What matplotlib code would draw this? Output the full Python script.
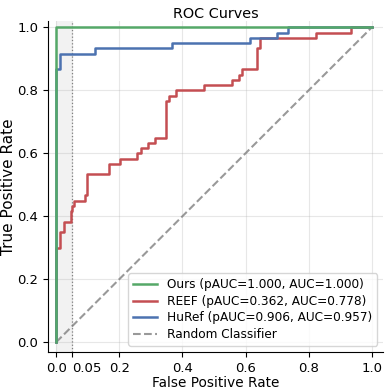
import matplotlib
matplotlib.use('Agg')
import matplotlib.pyplot as plt

# ROC points (steps-post: go right, then up)
ours_fpr = [0.0, 0.0, 1.0]
ours_tpr = [0.0, 1.0, 1.0]

reef_fpr = [0.0, 0.0, 0.012, 0.025, 0.046, 0.051, 0.056, 0.090, 0.099, 0.166, 0.202,
            0.257, 0.268, 0.290, 0.313, 0.347, 0.357, 0.381, 0.467, 0.556, 0.579,
            0.590, 0.636, 0.646, 0.823, 0.934, 1.0]
reef_tpr = [0.0, 0.300, 0.350, 0.383, 0.417, 0.433, 0.450, 0.467, 0.533, 0.567, 0.583,
            0.600, 0.617, 0.633, 0.650, 0.767, 0.783, 0.800, 0.817, 0.833, 0.850,
            0.867, 0.933, 0.967, 0.983, 1.0, 1.0]

huref_fpr = [0.0, 0.0, 0.012, 0.123, 0.368, 0.613, 0.700, 0.736, 1.0]
huref_tpr = [0.0, 0.867, 0.917, 0.933, 0.950, 0.967, 0.983, 1.0, 1.0]

labels = ['Ours (pAUC=1.000, AUC=1.000)',
          'REEF (pAUC=0.362, AUC=0.778)',
          'HuRef (pAUC=0.906, AUC=0.957)']
colors = ['#55a868', '#c44e52', '#4c72b0']

xticks = [0.0, 0.05, 0.2, 0.4, 0.6, 0.8, 1.0]
xticklabels = ['0.0', '0.05', '0.2', '0.4', '0.6', '0.8', '1.0']
max_fpr = 0.05

fig, ax = plt.subplots(figsize=(3.87, 3.91), dpi=100)
fig.subplots_adjust(left=0.124, right=0.99, top=0.946, bottom=0.1)

ax.axvspan(0, max_fpr, color='gray', alpha=0.1, lw=0)
ax.axvline(max_fpr, color='gray', linestyle=':', lw=0.9)

ax.step(ours_fpr, ours_tpr, where='post', color=colors[0], lw=1.8, label=labels[0], zorder=4)
ax.step(reef_fpr, reef_tpr, where='post', color=colors[1], lw=1.8, label=labels[1], zorder=3)
ax.step(huref_fpr, huref_tpr, where='post', color=colors[2], lw=1.8, label=labels[2], zorder=3)
ax.plot([0, 1], [0, 1], '--', color='gray', lw=1.5, alpha=0.8, label='Random Classifier')

ax.set_xlim(-0.026, 1.036)
ax.set_ylim(-0.031, 1.02)
ax.set_xticks(xticks)
ax.set_xticklabels(xticklabels)
ax.get_xticklabels()[1].set_horizontalalignment('left')
ax.set_yticks([0.0, 0.2, 0.4, 0.6, 0.8, 1.0])
ax.tick_params(labelsize=9.5)
ax.grid(True, alpha=0.3)
ax.spines['top'].set_visible(False)
ax.spines['right'].set_visible(False)
ax.set_xlabel('False Positive Rate', fontsize=9.8, labelpad=1)
ax.set_ylabel('True Positive Rate', fontsize=11)
ax.yaxis.set_label_coords(-0.095, 0.5)
ax.set_title('ROC Curves', fontsize=10.4, pad=2)
ax.legend(loc='lower right', fontsize=8.7, labelspacing=0.3)

fig.savefig('out.png')
